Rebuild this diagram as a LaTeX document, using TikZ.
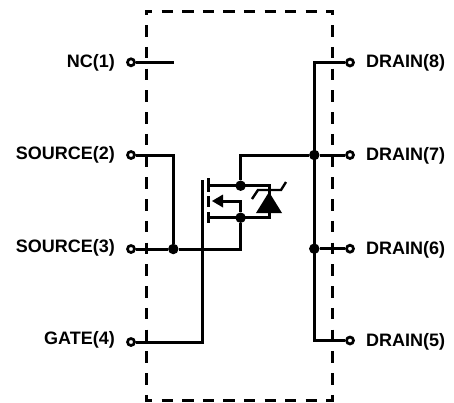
\documentclass[tikz,border=0pt]{standalone}
\usepackage{fontspec}
\setmainfont{Liberation Sans}
\tikzset{
  x=1pt,y=-1pt,
  wire/.style={line width=3pt,line cap=butt,line join=miter},
  pin/.style={circle,draw,line width=2.7pt,fill=white,inner sep=0pt,minimum size=7pt},
  junc/.style={circle,fill=black,inner sep=0pt,minimum size=10.5pt},
  lab/.style={font=\fontsize{18}{20}\selectfont\bfseries,inner sep=0pt},
  boxh/.style={line width=3.2pt,dash pattern=on 11.3pt off 9.27pt,dash phase=3.9pt},
  boxv/.style={line width=3.2pt,dash pattern=on 11.5pt off 10.25pt,dash phase=6.75pt},
}
\begin{document}
\begin{tikzpicture}
\useasboundingbox (0,0) rectangle (454,402);
\draw[boxh] (145,11.5) -- (334,11.5);
\draw[boxh] (145,400.4) -- (334,400.4);
\draw[boxv] (146.5,10) -- (146.5,402);
\draw[boxv] (332.5,10) -- (332.5,402);
\coordinate (nc) at (174,62.3);
\coordinate (gt) at (202.7,180);
\coordinate (arrowtip) at (212,201);
\node[pin] (p1) at (131,62.3) {};
\node[pin] (p2) at (131,155) {};
\node[pin] (p3) at (131,249) {};
\node[pin] (p4) at (131,342) {};
\node[pin] (p8) at (350,62.5) {};
\node[pin] (p7) at (350,155) {};
\node[pin] (p6) at (350,248.7) {};
\node[pin] (p5) at (350,340.5) {};
\node[lab,anchor=east] (l1) at (115,62.5) {NC(1)};
\node[lab,anchor=east] (l2) at (115,155) {SOURCE(2)};
\node[lab,anchor=east] (l3) at (115,247.5) {SOURCE(3)};
\node[lab,anchor=east] (l4) at (115,340) {GATE(4)};
\node[lab,anchor=west] (l8) at (366,63) {DRAIN(8)};
\node[lab,anchor=west] (l7) at (366,156) {DRAIN(7)};
\node[lab,anchor=west] (l6) at (366,249.5) {DRAIN(6)};
\node[lab,anchor=west] (l5) at (366,341.5) {DRAIN(5)};
\node[junc] (jS) at (173.3,249) {};
\node[junc] (jD) at (314.3,155) {};
\node[junc] (jE) at (314.3,248.7) {};
\node[junc] (jT) at (240.6,185.7) {};
\node[junc] (jB) at (240.6,217.7) {};
\draw[wire] (p1) -- (nc);
\draw[wire] (p2) -| (jS);
\draw[wire] (p3) -- (jS);
\draw[wire] (jS) -- (240.6,249) -- (jB);
\draw[wire] (p4) -| (gt);
\draw[wire] (p8) -- (314.3,62.5) -- (314.3,340.5) -- (p5);
\draw[wire] (p7) -- (jD);
\draw[wire] (p6) -- (jE);
\draw[wire] (jD) -- (240.6,155) -- (jT);
\draw[wire] (jB) -- (240.6,201) -- (222,201);
\draw[wire] (208.3,185.7) -- (269,185.7) -- (269,217.7) -- (208.3,217.7);
\draw[wire] (208.3,178) -- (208.3,192);
\draw[wire] (208.3,196) -- (208.3,207);
\draw[wire] (208.3,212) -- (208.3,223);
\fill (arrowtip) -- (223,194.5) -- (223,207.5) -- cycle;
\fill (269,192) -- (282,213) -- (256,213) -- cycle;
\draw[line width=2.4pt] (252,199) -- (258,190) -- (281,190) -- (286,182);
\end{tikzpicture}
\end{document}
